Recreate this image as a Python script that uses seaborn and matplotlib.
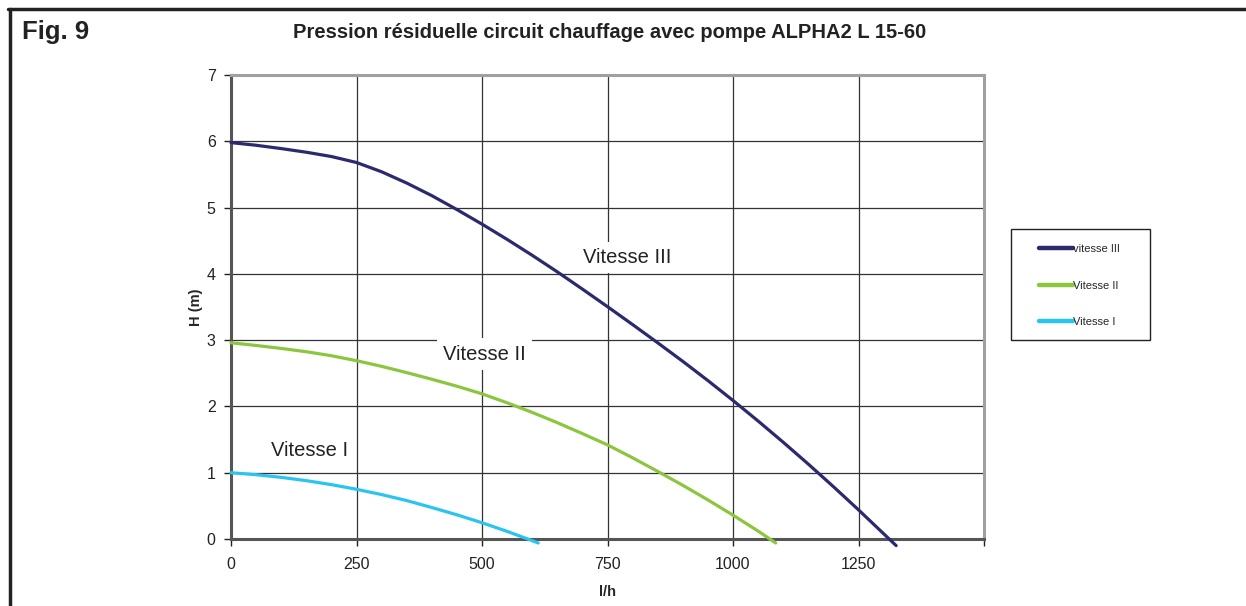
import numpy as np
import pandas as pd
import matplotlib
matplotlib.use('Agg')
import matplotlib.pyplot as plt
from matplotlib.lines import Line2D
from matplotlib.patches import Rectangle
import seaborn as sns

# pump curves (flow in l/h, head in m)
flow_v3 = [0, 50, 100, 150, 200, 250, 300, 350, 400, 450, 500, 550, 600, 650, 700, 750,
           800, 850, 900, 950, 1000, 1050, 1100, 1150, 1200, 1250, 1300, 1325]
head_v3 = [5.98, 5.94, 5.89, 5.835, 5.77, 5.68, 5.54, 5.37, 5.18, 4.97, 4.75, 4.52, 4.28, 4.03,
           3.77, 3.505, 3.235, 2.96, 2.68, 2.39, 2.09, 1.78, 1.46, 1.13, 0.79, 0.44, 0.08, -0.10]

flow_v2 = [0, 50, 100, 150, 200, 250, 300, 350, 400, 450, 500, 550, 600, 650, 700, 750,
           800, 850, 900, 950, 1000, 1050, 1085]
head_v2 = [2.96, 2.92, 2.875, 2.825, 2.765, 2.69, 2.605, 2.51, 2.41, 2.305, 2.19, 2.055, 1.91,
           1.755, 1.59, 1.42, 1.225, 1.02, 0.81, 0.59, 0.36, 0.12, -0.06]

flow_v1 = [0, 50, 100, 150, 200, 250, 300, 350, 400, 450, 500, 550, 600, 612]
head_v1 = [1.0, 0.97, 0.93, 0.88, 0.82, 0.75, 0.67, 0.58, 0.475, 0.365, 0.245, 0.115, -0.025, -0.06]

legend_labels = ['vitesse III', 'Vitesse II', 'Vitesse I']
curve_labels = ['Vitesse III', 'Vitesse II', 'Vitesse I']
colors = ['#2b2a6e', '#8cc63e', '#2bc4f0']

x_ticks = [0, 250, 500, 750, 1000, 1250, 1500]
x_ticklabels = ['0', '250', '500', '750', '1000', '1250', '']
y_ticks = [0, 1, 2, 3, 4, 5, 6, 7]

df = pd.concat([
    pd.DataFrame({'flow': flow_v3, 'head': head_v3, 'curve': legend_labels[0]}),
    pd.DataFrame({'flow': flow_v2, 'head': head_v2, 'curve': legend_labels[1]}),
    pd.DataFrame({'flow': flow_v1, 'head': head_v1, 'curve': legend_labels[2]}),
])

sns.set_style('white')
plt.rcParams['font.family'] = ['Liberation Sans', 'DejaVu Sans']

W, H = 1246, 606
fig = plt.figure(figsize=(W / 100, H / 100), dpi=100)
ax = fig.add_axes([231 / W, 1 - 539 / H, (984 - 231) / W, (539 - 75) / H])

sns.lineplot(data=df, x='flow', y='head', hue='curve', hue_order=legend_labels,
             palette=colors, linewidth=2.3, estimator=None, sort=False,
             clip_on=False, legend=False, ax=ax, zorder=3)

ax.set_xlim(0, 1500)
ax.set_ylim(0, 7)
ax.set_xticks(x_ticks)
ax.set_xticklabels(x_ticklabels)
ax.set_yticks(y_ticks)
ax.tick_params(axis='both', labelsize=11.5, colors='#222222', length=5, width=1,
               direction='out', bottom=True, left=True, pad=8)
ax.tick_params(axis='y', pad=6)
ax.grid(True, color='#333333', linewidth=0.9)
ax.set_axisbelow(True)

for s in ['left', 'bottom']:
    ax.spines[s].set_color('#555555')
    ax.spines[s].set_linewidth(2.2)
for s in ['top', 'right']:
    ax.spines[s].set_color('#a0a0a0')
    ax.spines[s].set_linewidth(2.2)

ax.set_xlabel('l/h', fontsize=10.5, fontweight='bold', labelpad=9)
ax.set_ylabel('H (m)', fontsize=10.5, fontweight='bold', labelpad=3)

# curve names sitting on the chart with a white patch behind them
label_pos = [(790, 4.25), (505, 2.79), (157, 1.34)]
for txt, (px, py) in zip(curve_labels, label_pos):
    ax.text(px, py, txt, fontsize=14.5, color='#222222', ha='center', va='center',
            bbox=dict(facecolor='white', edgecolor='none', pad=4.5), zorder=2)

# legend box drawn by hand, the legend itself sits inside without frame
fig.add_artist(Rectangle((1011 / W, 1 - 340 / H), (1150 - 1011) / W, (340 - 229) / H,
                         transform=fig.transFigure, facecolor='white', edgecolor='#222222',
                         linewidth=1.0))
handles = [Line2D([0], [0], color=c, linewidth=3.2, solid_capstyle='round') for c in colors]
leg = fig.legend(handles, legend_labels, loc='upper left',
                 bbox_to_anchor=(1039 / W, 1 - 244 / H),
                 fontsize=8, frameon=False, handlelength=3.1, handletextpad=0.0,
                 labelspacing=2.4, borderpad=0, borderaxespad=0)

fig.text(22 / W, 1 - 32 / H, 'Fig. 9', fontsize=18.5, fontweight='bold', va='center', ha='left',
         color='#222222')
fig.text(610 / W, 1 - 32 / H, 'Pression résiduelle circuit chauffage avec pompe ALPHA2 L 15-60',
         fontsize=14.5, fontweight='bold', va='center', ha='center', color='#222222')

# outer frame of the figure panel
fig.add_artist(Line2D([8 / W, 1.0], [1 - 9 / H, 1 - 9 / H], transform=fig.transFigure,
                      color='#222222', linewidth=2.5))
fig.add_artist(Line2D([9.5 / W, 9.5 / W], [0, 1 - 9 / H], transform=fig.transFigure,
                      color='#222222', linewidth=2.5))

fig.savefig('out.png', dpi=100)
